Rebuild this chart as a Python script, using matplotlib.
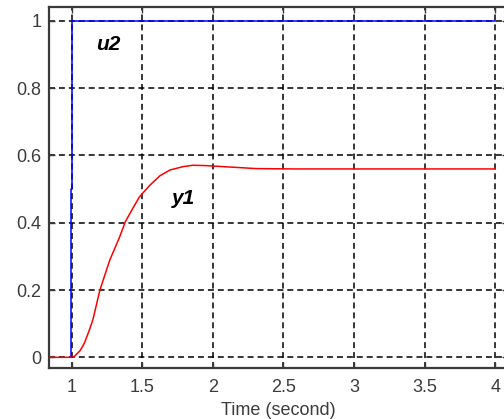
import matplotlib
matplotlib.use("Agg")
import matplotlib.pyplot as plt

# Input step u2 (blue)
u2_time = [0.993, 0.993, 1.0, 1.0, 4.0]
u2_value = [0, 0.5, 0.5, 1, 1]

# Output response y1 (red)
y1_time = [0.84, 1.0, 1.02, 1.06, 1.09, 1.12, 1.15, 1.2, 1.27, 1.34, 1.38, 1.425, 1.48,
           1.555, 1.626, 1.697, 1.79, 1.86, 1.95, 2.07, 2.31, 2.6, 4.0]
y1_value = [0, 0, 0.003, 0.02, 0.042, 0.075, 0.111, 0.2, 0.289, 0.358, 0.403, 0.437, 0.477,
            0.512, 0.540, 0.557, 0.567, 0.571, 0.570, 0.567, 0.561, 0.560, 0.560]

x_ticks = [1, 1.5, 2, 2.5, 3, 3.5, 4]
x_tick_labels = ["1", "1.5", "2", "2.5", "3", "3.5", "4"]
y_ticks = [0, 0.2, 0.4, 0.6, 0.8, 1]
y_tick_labels = ["0", "0.2", "0.4", "0.6", "0.8", "1"]

plt.rcParams["font.family"] = ["Liberation Sans", "DejaVu Sans"]

fig = plt.figure(figsize=(5.04, 4.19), dpi=100)
ax = fig.add_axes([0.0972, 0.1217, 0.9107, 0.862])

ax.plot(u2_time, u2_value, color="blue", linewidth=1.1)
ax.plot(y1_time, y1_value, color="red", linewidth=1.1)

ax.set_xlim(0.8395, 4.09)
ax.set_ylim(-0.0318, 1.042)
ax.set_xticks(x_ticks)
ax.set_xticklabels(x_tick_labels)
ax.set_yticks(y_ticks)
ax.set_yticklabels(y_tick_labels)

# dashed black grid like matlab
ax.grid(True, color="black", linewidth=1.1, linestyle=(0, (3.9, 2.6)))
ax.set_axisbelow(True)

for side in ax.spines:
    ax.spines[side].set_color("#3a3a3a")
    ax.spines[side].set_linewidth(1.6)

ax.tick_params(direction="in", length=4, width=1, colors="#3a3a3a",
               top=True, right=True, labelsize=13, labelcolor="#3c3c3c")
ax.tick_params(axis="x", pad=8)
ax.tick_params(axis="y", pad=5.5)

ax.set_xlabel("Time (second)", fontsize=13, color="#3c3c3c", labelpad=4)

ax.text(1.172, 0.915, "u2", fontsize=15, fontweight="bold", fontstyle="italic",
        ha="left", va="baseline")
ax.text(1.71, 0.455, "y1", fontsize=15, fontweight="bold", fontstyle="italic",
        ha="left", va="baseline")

fig.savefig("out.png", dpi=100)
